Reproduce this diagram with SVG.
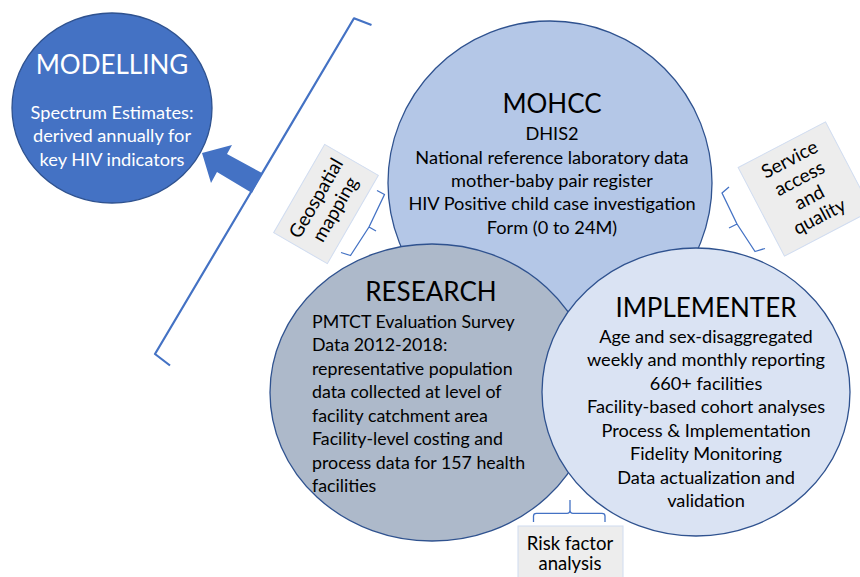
<svg xmlns="http://www.w3.org/2000/svg" width="860" height="577" viewBox="0 0 860 577">
<style>
text{font-family:Lato,"Liberation Sans",sans-serif;fill:#000}
.c{stroke:#2F528F;stroke-width:1.3}
.title{font-size:26px;text-anchor:middle}
.body{font-size:18.2px;text-anchor:middle}
.left{font-size:17.8px;text-anchor:start}
.lbl{font-size:19px;text-anchor:middle}
.box{fill:#EDEDED;stroke:#D0DCF0;stroke-width:1}
.br{fill:none;stroke:#4472C4;stroke-width:1.3;stroke-linejoin:round}
.w{fill:#fff}
</style>
<rect width="860" height="577" fill="#fff"/>
<g id="mohcc">
<circle class="c" cx="550" cy="183" r="162" fill="#B4C7E7"/>
<text class="title" x="552" y="113">MOHCC</text>
<text class="body" x="552" y="140">DHIS2</text>
<text class="body" x="552" y="163.5">National reference laboratory data</text>
<text class="body" x="552" y="187">mother-baby pair register</text>
<text class="body" x="552" y="210">HIV Positive child case investigation</text>
<text class="body" x="552" y="233.5">Form (0 to 24M)</text>
</g>
<g id="research">
<ellipse class="c" cx="432" cy="392.5" rx="162" ry="148.5" fill="#ADB9CA"/>
<text class="title" x="431" y="301">RESEARCH</text>
<text class="left" x="312" y="328">PMTCT Evaluation Survey</text>
<text class="left" x="312" y="351">Data 2012-2018:</text>
<text class="left" x="312" y="374.5">representative population</text>
<text class="left" x="312" y="398">data collected at level of</text>
<text class="left" x="312" y="421.5">facility catchment area</text>
<text class="left" x="312" y="445">Facility-level costing and</text>
<text class="left" x="312" y="468.5">process data for 157 health</text>
<text class="left" x="312" y="492">facilities</text>
</g>
<g id="implementer">
<ellipse class="c" cx="696" cy="392" rx="154" ry="144" fill="#DAE3F3"/>
<text class="title" x="706" y="317">IMPLEMENTER</text>
<text class="body" x="706" y="343">Age and sex-disaggregated</text>
<text class="body" x="706" y="366">weekly and monthly reporting</text>
<text class="body" x="706" y="389.5">660+ facilities</text>
<text class="body" x="706" y="413">Facility-based cohort analyses</text>
<text class="body" x="706" y="436.5">Process &amp; Implementation</text>
<text class="body" x="706" y="460">Fidelity Monitoring</text>
<text class="body" x="706" y="483.5">Data actualization and</text>
<text class="body" x="706" y="507">validation</text>
</g>
<g id="modelling">
<ellipse class="c" cx="112" cy="108" rx="100" ry="95" fill="#4472C4"/>
<text class="title w" x="112" y="74">MODELLING</text>
<text class="body w" x="112" y="118.5">Spectrum Estimates:</text>
<text class="body w" x="112" y="142">derived annually for</text>
<text class="body w" x="112" y="166">key HIV indicators</text>
</g>
<g id="geospatial-mapping" transform="translate(326,204) rotate(-60)">
<rect class="box" x="-51" y="-31" width="102" height="62"/>
<text class="lbl" x="0" y="-5">Geospatial</text>
<text class="lbl" x="0" y="17">mapping</text>
</g>
<g id="service-access" transform="translate(805,189) rotate(-27.6)">
<rect class="box" x="-49.3" y="-50" width="98.6" height="100"/>
<text class="lbl" x="0" y="-27">Service</text>
<text class="lbl" x="0" y="-5.5">access</text>
<text class="lbl" x="0" y="16">and</text>
<text class="lbl" x="0" y="37.5">quality</text>
</g>
<g id="risk-factor">
<rect class="box" x="518" y="526" width="105" height="60"/>
<text class="lbl" x="570" y="550" style="font-size:18.5px">Risk factor</text>
<text class="lbl" x="570" y="570" style="font-size:18.5px">analysis</text>
</g>
<g id="connectors">
<path d="M371.5,25 L354,18.3 L155,354 L170,365.5" fill="none" stroke="#4472C4" stroke-width="2.2" stroke-linejoin="round"/>
<polygon points="202,153 232,145 227,154 262,173 252,193 217,172 211,183" fill="#4472C4"/>
<path class="br" d="M377,190.5 L384.5,194.5 L369,227 L376,231 M369,227 L350.5,255.5 L341,252.5"/>
<path class="br" d="M729,187 L722,193 L737,224 L729,228 M737,224 L755,251.5 L765,248.5"/>
<path class="br" d="M533.5,522 L533.5,516 Q533.5,513.3 536.5,513.3 L567,513.3 Q570,513.3 570,510 L570,500 M570,510 Q570,513.3 573,513.3 L602,513.3 Q605,513.3 605,516 L605,522"/>
</g>
</svg>
